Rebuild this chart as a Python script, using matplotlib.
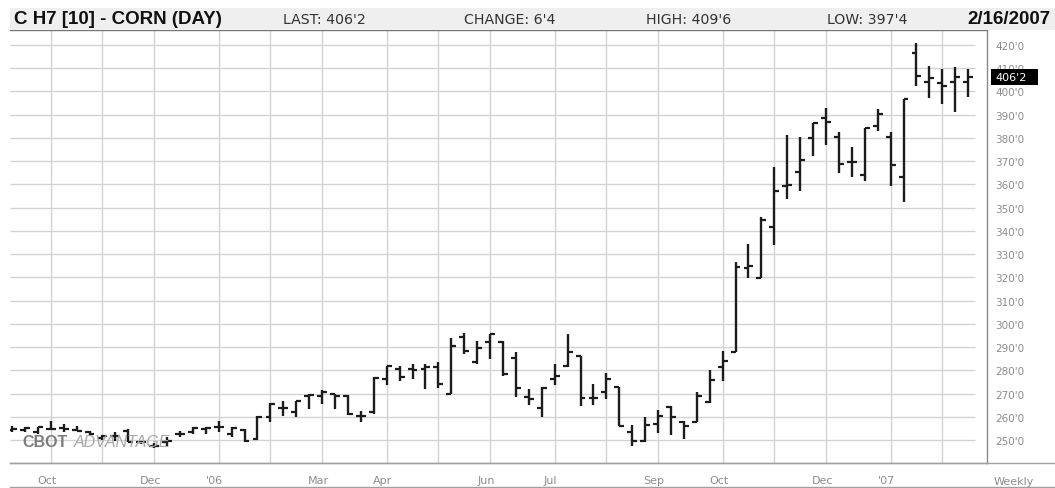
import matplotlib
matplotlib.use("Agg")
import matplotlib.pyplot as plt
from matplotlib.lines import Line2D
from matplotlib.patches import Rectangle

plt.rcParams['font.family'] = ['Liberation Sans', 'DejaVu Sans']

# weekly OHLC, corn March 2007 contract (cents/bu)
opens = [254.5, 254.2, 253.4, 254.8, 255.1, 254.5, 253.7, 250.8, 251.7, 254.1,
         249.1, 247.7, 249.1, 252.7, 253.4, 254.8, 255.5, 252.7, 254.5, 250.5,
         259.9, 264.0, 262.0, 268.9, 269.2, 269.9, 269.2, 260.6, 262.0, 276.3,
         280.6, 280.6, 280.6, 281.6, 269.9, 294.3, 283.5, 292.4, 292.4, 285.2,
         268.5, 263.7, 276.3, 282.1, 286.1, 268.0, 270.6, 272.8, 253.4, 249.8,
         257.0, 264.2, 258.0, 257.7, 266.3, 281.3, 288.1, 323.9, 319.6, 341.6,
         359.5, 365.2, 379.9, 388.5, 380.3, 369.5, 364.2, 385.3, 380.3, 363.4,
         416.6, 404.2, 403.7, 404.2, 404.2]
highs = [256.3, 255.5, 255.8, 258.4, 257.0, 256.3, 254.1, 252.3, 253.4, 254.8,
         249.8, 248.8, 251.2, 254.1, 255.5, 255.8, 258.4, 255.5, 254.8, 260.3,
         266.0, 267.0, 267.0, 269.9, 271.75, 269.9, 269.5, 262.7, 277.0, 282.1,
         282.1, 282.8, 282.8, 283.8, 293.8, 296.1, 292.8, 295.7, 292.8, 288.1,
         272.0, 272.8, 282.8, 295.7, 286.1, 274.2, 278.9, 272.8, 256.6, 259.9,
         263.2, 264.6, 258.4, 270.9, 280.2, 288.5, 326.5, 334.4, 345.9, 367.4,
         381.3, 380.3, 386.3, 392.9, 382.4, 376.0, 384.3, 392.5, 382.4, 396.8,
         420.9, 410.8, 409.7, 410.4, 409.75]
lows = [253.4, 253.7, 252.7, 254.5, 253.4, 253.8, 252.0, 250.3, 249.8, 249.1,
        248.4, 246.5, 247.0, 251.2, 252.7, 252.7, 253.4, 251.2, 249.1, 250.3,
        257.7, 260.6, 259.9, 263.4, 265.6, 263.4, 260.9, 257.7, 261.3, 273.8,
        275.6, 276.3, 272.0, 272.3, 269.9, 287.1, 282.8, 284.9, 277.8, 268.5,
        265.2, 259.9, 273.8, 281.4, 264.9, 265.2, 267.7, 256.3, 247.7, 249.4,
        253.1, 252.3, 250.5, 257.7, 266.0, 275.6, 288.1, 319.6, 319.6, 334.0,
        353.8, 357.0, 372.1, 377.0, 364.9, 363.1, 361.6, 383.2, 359.2, 352.3,
        402.5, 397.1, 394.6, 391.3, 397.5]
closes = [254.8, 255.1, 255.8, 254.8, 254.8, 254.1, 252.7, 252.0, 252.0, 249.4,
          249.1, 247.7, 249.8, 252.7, 255.1, 255.4, 255.5, 255.3, 249.8, 259.9,
          265.6, 264.0, 267.0, 269.5, 270.6, 269.2, 261.3, 260.6, 276.6, 281.8,
          277.1, 280.4, 281.3, 274.2, 290.7, 288.5, 289.5, 295.7, 278.5, 272.3,
          267.7, 272.3, 277.5, 288.1, 268.0, 268.0, 276.3, 256.3, 249.8, 256.6,
          260.6, 259.9, 256.0, 268.9, 276.0, 284.2, 324.4, 325.0, 344.9, 357.3,
          359.8, 370.5, 386.3, 387.0, 368.8, 369.5, 384.3, 390.3, 368.4, 396.8,
          406.8, 405.7, 402.2, 406.1, 406.25]

# first weekly bar of each month (bar index)
month_ticks = [3, 7, 11, 16, 20, 24, 29, 33, 37, 42, 46, 50, 55, 59, 63, 68, 72]
month_labels = {3: 'Oct', 11: 'Dec', 16: "'06", 24: 'Mar', 29: 'Apr', 37: 'Jun',
                42: 'Jul', 50: 'Sep', 55: 'Oct', 63: 'Dec', 68: "'07"}
price_ticks = list(range(250, 421, 10))
last_price = 406.25

W, H = 1055, 489
fig = plt.figure(figsize=(W / 100, H / 100), dpi=100)

def fx(px):
    return px / W

def fy(py):
    return 1 - py / H

gray_txt = '#8c8c8c'

# header band
fig.patches.append(Rectangle((fx(10), fy(31)), 1 - fx(10), (31 - 9) / H,
                             transform=fig.transFigure, facecolor='#efefef',
                             edgecolor='none', zorder=0))
hy = fy(20)
fig.text(fx(14), hy, 'C H7 [10] - CORN (DAY)', fontsize=13.5, fontweight='bold',
         va='center', ha='left', color='#111111')
hdr = dict(fontsize=10.2, va='center', ha='center', color='#333333', family='DejaVu Sans')
fig.text(fx(324), hy, "LAST: 406'2", **hdr)
fig.text(fx(510), hy, "CHANGE: 6'4", **hdr)
fig.text(fx(689), hy, "HIGH: 409'6", **hdr)
fig.text(fx(867), hy, "LOW: 397'4", **hdr)
fig.text(fx(1050), hy, '2/16/2007', fontsize=13.5, fontweight='bold',
         va='center', ha='right', color='#111111')

ax = fig.add_axes([fx(10), fy(464), (987 - 10) / W, (464 - 31) / H])
x = list(range(len(opens)))
ax.set_xlim(-0.155, 75.46)
ax.set_ylim(240.2, 426.45)

# grid
grid_end = 74.5
ax.hlines(price_ticks, -0.155, grid_end, color='#d2d2d2', lw=1.0, zorder=1)
for m in month_ticks:
    ax.axvline(m, color='#d2d2d2', lw=1.0, zorder=1)

# watermark
fig.text(fx(22), fy(443), 'CBOT', fontsize=11.5, fontweight='bold', color='#7c7c7c',
         va='center', ha='left', zorder=2)
fig.text(fx(74), fy(443), 'ADVANTAGE', fontsize=11.5, style='italic', color='#a8a8a8',
         va='center', ha='left', zorder=2)

# OHLC bars
tick = 0.38
bar_color = '#1c1c1c'
ax.vlines(x, lows, highs, color=bar_color, lw=1.7, zorder=5)
ax.hlines(opens, [i - tick for i in x], x, color=bar_color, lw=1.6, zorder=5)
ax.hlines(closes, x, [i + tick for i in x], color=bar_color, lw=1.6, zorder=5)

# axes styling
ax.spines['left'].set_visible(False)
ax.spines['top'].set_color('#777777')
ax.spines['right'].set_color('#8a8a8a')
ax.spines['bottom'].set_color('#a0a0a0')
for s in ['top', 'right', 'bottom']:
    ax.spines[s].set_linewidth(1.0)

ax.yaxis.tick_right()
ax.set_yticks(price_ticks)
ax.set_yticklabels([f"{p}'0" for p in price_ticks], fontsize=7.5, color=gray_txt,
                   family='DejaVu Sans')
ax.tick_params(axis='y', length=0, pad=6)
ax.set_xticks([])

for m, lab in month_labels.items():
    ax.text(m - 0.3, -0.04, lab, transform=ax.get_xaxis_transform(), fontsize=8,
            color=gray_txt, ha='center', va='center', family='DejaVu Sans')
fig.text(fx(1014), fy(482), 'Weekly', fontsize=8, color=gray_txt, ha='center',
         va='center', family='DejaVu Sans')

# last price box (figure level so it sits over the 410'0 label)
box_mid = ax.transData.transform((0, last_price))[1] / H
fig.patches.append(Rectangle((fx(991), box_mid - 8 / H), (1038 - 991) / W, 16 / H,
                             transform=fig.transFigure, facecolor='black',
                             edgecolor='none', zorder=10))
last_label = f"{int(last_price)}'{int(round((last_price % 1) * 8))}"
fig.text(fx(995), box_mid, last_label, fontsize=8, color='white', ha='left',
         va='center', zorder=11, family='DejaVu Sans')

# frame lines around the date band
fig.add_artist(Line2D([fx(10), 1], [fy(464), fy(464)], color='#a0a0a0', lw=1.0))
fig.add_artist(Line2D([fx(10), 1], [fy(488), fy(488)], color='#a0a0a0', lw=1.0))

fig.savefig('out.png', dpi=100)
